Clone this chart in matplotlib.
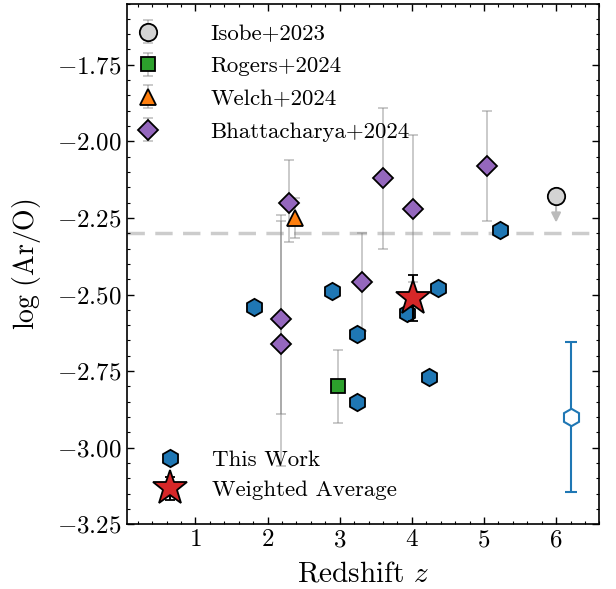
import matplotlib
matplotlib.use('Agg')
import matplotlib.pyplot as plt
import numpy as np

plt.rcParams['font.family'] = 'serif'
plt.rcParams['font.serif'] = ['cmr10']
plt.rcParams['mathtext.fontset'] = 'cm'
plt.rcParams['axes.formatter.use_mathtext'] = True
plt.rcParams['xtick.direction'] = 'in'
plt.rcParams['ytick.direction'] = 'in'
plt.rcParams['xtick.top'] = True
plt.rcParams['ytick.right'] = True

# ---- data ----
# This Work
tw_z = [1.81, 2.90, 3.24, 3.24, 3.94, 4.36, 4.24, 5.22]
tw_aro = [-2.54, -2.49, -2.63, -2.85, -2.56, -2.48, -2.77, -2.29]
tw_err_z = 6.21
tw_err_y = -2.90
tw_err = 0.245

# Isobe+2023 (upper limit)
iso_z = [6.0]
iso_aro = [-2.18]

# Rogers+2024
rog_z = [2.97]
rog_aro = [-2.80]
rog_err = [0.12]

# Welch+2024
wel_z = [2.375]
wel_aro = [-2.25]
wel_err = [0.065]

# Bhattacharya+2024
bha_z = [2.30, 2.19, 2.19, 3.31, 3.60, 4.01, 5.04]
bha_aro = [-2.20, -2.58, -2.66, -2.46, -2.12, -2.22, -2.08]
bha_lo = [0.13, 0.31, 0.40, 0.16, 0.23, 0.24, 0.18]
bha_hi = [0.14, 0.32, 0.42, 0.16, 0.23, 0.24, 0.18]

# weighted average
wa_z = [4.01]
wa_aro = [-2.51]
wa_err = [0.075]

solar = -2.30

fig, ax = plt.subplots(figsize=(6.16, 5.89), dpi=100)
fig.subplots_adjust(left=0.206, right=0.973, top=0.994, bottom=0.110)

ax.axhline(solar, color='#cccccc', ls=(0, (5, 3)), lw=2.5, zorder=0)

ekw = dict(ecolor='gray', elinewidth=1.3, capsize=3.5, capthick=1.3)

def fade(eb):
    for l in eb[2]:
        l.set_alpha(0.45)
    for c in eb[1]:
        c.set_alpha(0.45)

def lit(x, y, yerr, fmt, fc, ms, label):
    eb = ax.errorbar(x, y, yerr=yerr, fmt=fmt, mfc=fc, mec='k', mew=1.3, ms=ms,
                     label=label, zorder=3, **ekw)
    fade(eb)
    return eb

# Isobe: legend proxy + real point with arrow
h_iso = ax.errorbar([np.nan], [np.nan], yerr=[0.1], fmt='o', mfc='#d3d3d3', mec='k',
                    mew=1.3, ms=12.5, label='Isobe+2023', **ekw)
fade(h_iso)
ax.annotate('', xy=(iso_z[0], iso_aro[0] - 0.085), xytext=(iso_z[0], iso_aro[0]),
            arrowprops=dict(arrowstyle='-|>', color='#bbbbbb', lw=1.5, mutation_scale=14,
                            shrinkA=0, shrinkB=0), zorder=2)
ax.plot(iso_z, iso_aro, 'o', mfc='#d3d3d3', mec='k', mew=1.3, ms=12.5, zorder=3)

lit(rog_z, rog_aro, rog_err, 's', '#2ca02c', 10, 'Rogers+2024')
lit(wel_z, wel_aro, wel_err, '^', '#ff7f0e', 12, 'Welch+2024')
lit(bha_z, bha_aro, [bha_lo, bha_hi], 'D', '#9467bd', 10, 'Bhattacharya+2024')

h1, l1 = ax.get_legend_handles_labels()
leg1 = ax.legend(h1, l1, loc='upper left', fontsize=16.5, frameon=False,
                 handlelength=1.0, handletextpad=2.25, labelspacing=0.55,
                 borderaxespad=0.0, bbox_to_anchor=(0.0, 0.979))
ax.add_artist(leg1)

h_tw, = ax.plot(tw_z, tw_aro, 'h', mfc='#1f77b4', mec='k', mew=1.3, ms=12.5, ls='none',
                zorder=4)
ax.errorbar([tw_err_z], [tw_err_y], yerr=[tw_err], fmt='h', mfc='white', mec='#1f77b4',
            mew=1.5, ms=12.5, ecolor='#1f77b4', elinewidth=1.5, capsize=4, capthick=1.5)

h_wa = ax.errorbar(wa_z, wa_aro, yerr=wa_err, fmt='*', mfc='#d62728', mec='k', mew=1.3,
                   ms=26, ecolor='k', elinewidth=1.5, capsize=3.5, capthick=1.5, zorder=5)

ax.legend([h_tw, h_wa], ['This Work', 'Weighted Average'], loc='lower left',
          fontsize=16.5, frameon=False, handletextpad=0.8, labelspacing=0.45,
          borderaxespad=0.5, bbox_to_anchor=(0.0, 0.006))

ax.set_xlim(0.05, 6.6)
ax.set_ylim(-3.25, -1.55)
ax.set_xticks([1, 2, 3, 4, 5, 6])
ax.set_yticks([-3.25, -3.0, -2.75, -2.5, -2.25, -2.0, -1.75])
ax.xaxis.set_minor_locator(matplotlib.ticker.MultipleLocator(0.2))
ax.yaxis.set_minor_locator(matplotlib.ticker.MultipleLocator(0.05))
ax.tick_params(which='major', length=5, width=1, labelsize=18)
ax.tick_params(which='minor', length=2.5, width=0.8)
for s in ax.spines.values():
    s.set_linewidth(1.2)

ax.set_xlabel(r'Redshift $z$', fontsize=21, labelpad=7)
ax.set_ylabel(r'$\log\,(\mathrm{Ar/O})$', fontsize=20, labelpad=10)

plt.savefig('out.png', dpi=100)
